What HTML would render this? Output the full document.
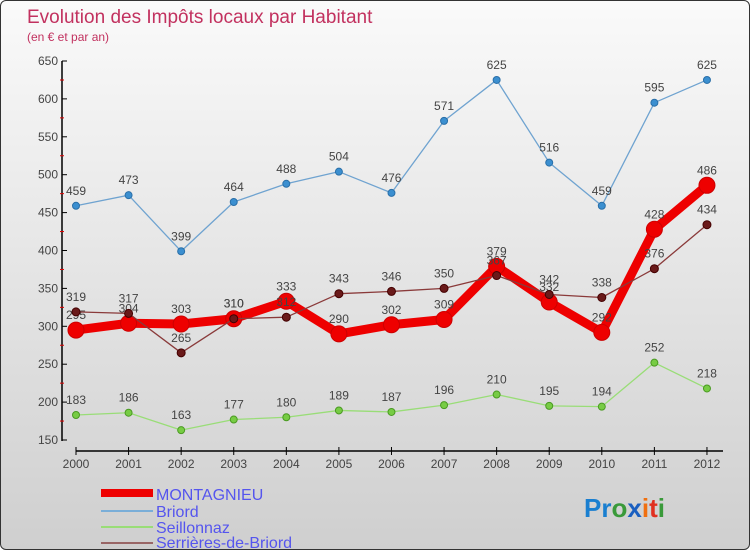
<!DOCTYPE html>
<html><head><meta charset="utf-8"><style>
body{margin:0;width:750px;height:550px;overflow:hidden;font-family:"Liberation Sans",sans-serif}
#wrap{position:absolute;left:0;top:0;width:748px;height:548px;border:1px solid #333;border-radius:6px;background:linear-gradient(#fafafa,#cfcfcf);overflow:hidden}
</style></head><body>
<div id="wrap">
<svg id="c" width="750" height="550" style="position:absolute;left:0;top:0">
<text x="26" y="22" font-size="19" fill="#c2315f">Evolution des Impôts locaux par Habitant</text>
<text x="26" y="40" font-size="12" fill="#c2315f">(en € et par an)</text>
<g id="axes"></g><g id="series"></g>
<g font-size="16" fill="#5555ee">
<rect x="100" y="488" width="52" height="8" fill="#ee0000"/>
<text x="155" y="499">MONTAGNIEU</text>
<line x1="100" x2="152" y1="510" y2="510" stroke="#7aaed8" stroke-width="2"/>
<text x="155" y="516">Briord</text>
<line x1="100" x2="152" y1="526" y2="526" stroke="#99dd77" stroke-width="2"/>
<text x="155" y="532">Seillonnaz</text>
<line x1="100" x2="152" y1="542" y2="542" stroke="#996666" stroke-width="2"/>
<text x="155" y="547">Serrières-de-Briord</text>
</g>
<text x="583" y="516" font-size="26" font-weight="bold"><tspan fill="#1a7fd0">Pr</tspan><tspan fill="#3a9a3a">o</tspan><tspan fill="#1a5fc0">x</tspan><tspan fill="#f07010">i</tspan><tspan fill="#e03020">t</tspan><tspan fill="#3a9a3a">i</tspan></text>
</svg>
</div>
<script>
const years=[2000,2001,2002,2003,2004,2005,2006,2007,2008,2009,2010,2011,2012];
const yTicks=[150,200,250,300,350,400,450,500,550,600,650];
const montagnieu=[295,304,303,310,333,290,302,309,379,332,292,428,486];
const briord=[459,473,399,464,488,504,476,571,625,516,459,595,625];
const seillonnaz=[183,186,163,177,180,189,187,196,210,195,194,252,218];
const serrieres=[319,317,265,310,312,343,346,350,367,342,338,376,434];
const NS="http://www.w3.org/2000/svg";
const x=i=>75+i*52.58;
const y=v=>439-(v-150)*0.758;
function mk(t,a,p){const e=document.createElementNS(NS,t);for(const k in a)e.setAttribute(k,a[k]);p.appendChild(e);return e;}
const ax=document.getElementById('axes');
let l=mk('line',{x1:61,x2:61,y1:60,y2:440,stroke:'#000','stroke-width':1.5},ax);


l=mk('line',{x1:75,x2:722,y1:450,y2:450,stroke:'#000','stroke-width':1.5},ax);


yTicks.forEach((v,i)=>{
 mk('line',{x1:61,x2:66,y1:y(v),y2:y(v),stroke:'#000'},ax);
 if(i<yTicks.length-1) mk('line',{x1:59,x2:63,y1:y(v+25),y2:y(v+25),stroke:'#d00'},ax);
 const t=mk('text',{x:57,y:y(v)+4,'font-size':12,fill:'#444','text-anchor':'end'},ax);
 t.textContent=v;
 
 
});
years.forEach((yr,i)=>{
 mk('line',{x1:x(i),x2:x(i),y1:446,y2:454,stroke:'#000'},ax);
 const t=mk('text',{x:x(i),y:467,'font-size':12,fill:'#444','text-anchor':'middle'},ax);
 t.textContent=yr;
 
 
});
const sg=document.getElementById('series');
function draw(data,name,color,dot,w,r,stroke){
 const g=mk('g',{},sg);
 
 
 const p=mk('polyline',{points:data.map((v,i)=>x(i)+','+y(v)).join(' '),fill:'none',stroke:color,'stroke-width':w,'stroke-linejoin':'round'},g);
 
 
 data.forEach((v,i)=>{
  const c=mk('circle',{cx:x(i),cy:y(v),r:r,fill:dot,stroke:stroke,'stroke-width':1},g);
  
  
  const t=mk('text',{x:x(i),y:y(v)-11,'font-size':12,fill:'#444','text-anchor':'middle'},g);
  t.textContent=v;
  
  
 });
}
draw(briord,'briord','#6fa3d0','#3b8fd0',1.3,3.5,'#2a6fa8');
draw(seillonnaz,'seillonnaz','#99dd77','#77cc44',1.3,3.5,'#4a9a22');
draw(montagnieu,'montagnieu','#ee0000','#ee0000',9,8,'#cc0000');
draw(serrieres,'serrieres','#8a3a3a','#6a1a1a',1.3,4,'#400');
</script>
</body></html>
